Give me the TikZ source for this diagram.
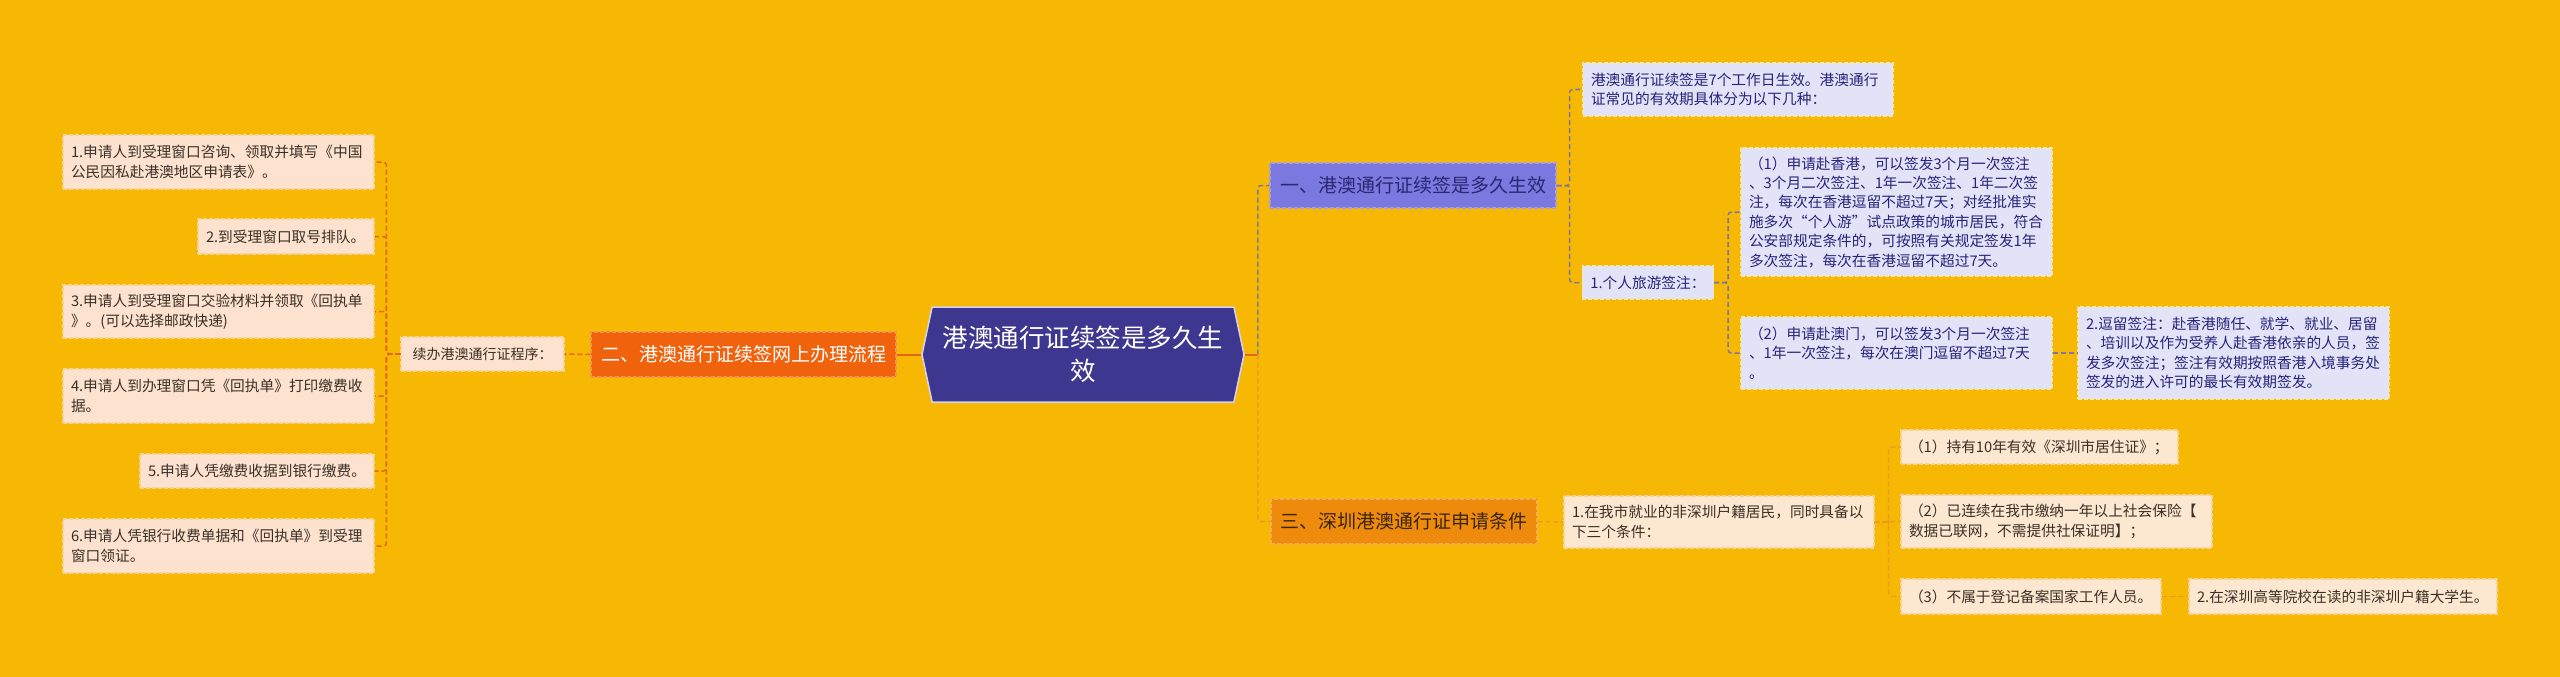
\documentclass[tikz,border=0pt]{standalone}
\usepackage{fontspec}
\setmainfont{Noto Sans CJK SC}
\usetikzlibrary{shapes.symbols}
\definecolor{bg}{HTML}{F6B802}
\definecolor{lfill}{HTML}{FCE2CF}
\definecolor{lborder}{HTML}{F8D49A}
\definecolor{ltext}{HTML}{3B2F25}
\definecolor{erfill}{HTML}{F0620C}
\definecolor{hexfill}{HTML}{3E3790}
\definecolor{hexborder}{HTML}{D6D2F0}
\definecolor{yifill}{HTML}{7B78E0}
\definecolor{yitext}{HTML}{2A2870}
\definecolor{pfill}{HTML}{E3E3F8}
\definecolor{pborder}{HTML}{F3E6B8}
\definecolor{ptext}{HTML}{25237A}
\definecolor{sanfill}{HTML}{EE8A0C}
\definecolor{santext}{HTML}{3A2608}
\definecolor{sfill}{HTML}{FCE8D1}
\definecolor{stext}{HTML}{3B2F25}
\definecolor{cleft}{HTML}{E5651A}
\definecolor{cpurp}{HTML}{7D77A8}
\definecolor{corng}{HTML}{EB9A22}
\begin{document}
\begin{tikzpicture}[x=1pt,y=-1pt,
  boxbase/.style={inner xsep=8pt, inner ysep=2pt, align=left, line width=1.2pt,
    dash pattern=on 4pt off 2pt, font=\fontsize{14.7}{19.4}\selectfont},
  leafL/.style={boxbase, fill=lfill, draw=lborder, text=ltext},
  leafP/.style={boxbase, fill=pfill, draw=pborder, text=ptext},
  leafS/.style={boxbase, fill=sfill, draw=lborder, text=stext},
  mainbox/.style={inner xsep=8pt, inner ysep=2pt, align=center, line width=1.2pt,
    dash pattern=on 4pt off 2pt, font=\fontsize{19}{24}\selectfont},
  cL/.style={draw=cleft, line width=1.5pt, dash pattern=on 5pt off 3pt, rounded corners=3pt},
  cP/.style={draw=cpurp, line width=1.5pt, dash pattern=on 5pt off 3pt, rounded corners=3pt},
  cO/.style={draw=corng, line width=1.5pt, dash pattern=on 5pt off 3pt, rounded corners=3pt},
  cC/.style={draw=cleft, line width=2pt}
]
\fill[bg] (0,0) rectangle (2560,677);
\useasboundingbox (0,0) rectangle (2560,677);

% central node
\node[signal, signal to=east and west, signal pointer angle=156, fill=hexfill,
  draw=hexborder, line width=1.5pt, text=white, minimum width=322pt, minimum height=95pt,
  align=center, inner sep=0pt, font=\fontsize{25.5}{33}\selectfont] (C) at (1083,354.5)
  {港澳通行证续签是多久生\\效};

% left branch
\node[mainbox, fill=erfill, draw=erfill!70!white, text=white, minimum width=305pt, minimum height=45pt] (Er) at (743.5,354.5) {二、港澳通行证续签网上办理流程};
\node[leafL, font=\fontsize{14}{18}\selectfont, minimum width=163pt, minimum height=34pt] (XB) at (482.5,354) {续办港澳通行证程序：};

\node[leafL, text width=295pt, minimum height=54pt] (L1) at (218.5,162) {1.申请人到受理窗口咨询、领取并填写《中国\\公民因私赴港澳地区申请表》。};
\node[leafL, text width=160pt, minimum height=35pt] (L2) at (286,236.5) {2.到受理窗口取号排队。};
\node[leafL, text width=295pt, minimum height=53pt] (L3) at (218.5,311.5) {3.申请人到受理窗口交验材料并领取《回执单\\》。(可以选择邮政快递)};
\node[leafL, text width=295pt, minimum height=54pt] (L4) at (218.5,396) {4.申请人到办理窗口凭《回执单》打印缴费收\\据。};
\node[leafL, text width=218pt, minimum height=34pt] (L5) at (257,471) {5.申请人凭缴费收据到银行缴费。};
\node[leafL, text width=295pt, minimum height=54pt] (L6) at (218.5,546) {6.申请人凭银行收费单据和《回执单》到受理\\窗口领证。};

% upper right branch
\node[mainbox, fill=yifill, draw=yifill!70!white, text=yitext, minimum width=286pt, minimum height=45pt] (Yi) at (1413,185.5) {一、港澳通行证续签是多久生效};
\node[leafP, text width=294pt, minimum height=53pt] (P0) at (1738,89.5) {港澳通行证续签是7个工作日生效。港澳通行\\证常见的有效期具体分为以下几种：};
\node[leafP, minimum width=130pt, minimum height=33pt] (P1) at (1648,282.5) {1.个人旅游签注：};
\node[leafP, text width=295pt, minimum height=128pt] (P11) at (1896.5,212) {（1）申请赴香港，可以签发3个月一次签注\\、3个月二次签注、1年一次签注、1年二次签\\注，每次在香港逗留不超过7天；对经批准实\\施多次“个人游”试点政策的城市居民，符合\\公安部规定条件的，可按照有关规定签发1年\\多次签注，每次在香港逗留不超过7天。};
\node[leafP, text width=295pt, minimum height=72pt] (P12) at (1896.5,353) {（2）申请赴澳门，可以签发3个月一次签注\\、1年一次签注，每次在澳门逗留不超过7天\\。};
\node[leafP, text width=295pt, minimum height=92pt] (P2) at (2233.5,353) {2.逗留签注：赴香港随任、就学、就业、居留\\、培训以及作为受养人赴香港依亲的人员，签\\发多次签注；签注有效期按照香港入境事务处\\签发的进入许可的最长有效期签发。};

% lower right branch
\node[mainbox, fill=sanfill, draw=sanfill!70!white, text=santext, minimum width=266pt, minimum height=45pt] (San) at (1404,521.5) {三、深圳港澳通行证申请条件};
\node[leafS, text width=294pt, minimum height=52pt] (S1) at (1719,522) {1.在我市就业的非深圳户籍居民，同时具备以\\下三个条件：};
\node[leafS, text width=261pt, minimum height=34pt] (S11) at (2039.5,447) {（1）持有10年有效《深圳市居住证》；};
\node[leafS, text width=295pt, minimum height=53pt] (S12) at (2056.5,521.5) {（2）已连续在我市缴纳一年以上社会保险【\\数据已联网，不需提供社保证明】；};
\node[leafS, text width=244pt, minimum height=35pt] (S13) at (2031,596.5) {（3）不属于登记备案国家工作人员。};
\node[leafS, text width=292pt, minimum height=35pt] (S2) at (2343,596.5) {2.在深圳高等院校在读的非深圳户籍大学生。};

% connectors: centre
\draw[cC] (C.west) -- (Er.east);
\draw[cC] (C.east) -- ++(13,0) coordinate (rb);
\draw[cP] (rb) |- (Yi.west);
\draw[cO] (rb) |- (San.west);

% left
\draw[cL] (Er.west) -- (XB.east);
\foreach \n in {L1,L2,L3,L4,L5,L6}
  \draw[cL] (XB.west) -- ++(-14,0) |- (\n.east);

% upper right
\draw[cP] (Yi.east) -- ++(13,0) |- (P0.west);
\draw[cP] (Yi.east) -- ++(13,0) |- (P1.west);
\draw[cP] (P1.east) -- ++(14,0) |- (P11.west);
\draw[cP] (P1.east) -- ++(14,0) |- (P12.west);
\draw[cP] (P12.east) -- (P2.west);

% lower right
\draw[cO] (San.east) -- (S1.west);
\foreach \n in {S11,S12,S13}
  \draw[cO] (S1.east) -- ++(14,0) |- (\n.west);
\draw[cO] (S13.east) -- (S2.west);
\end{tikzpicture}
\end{document}
